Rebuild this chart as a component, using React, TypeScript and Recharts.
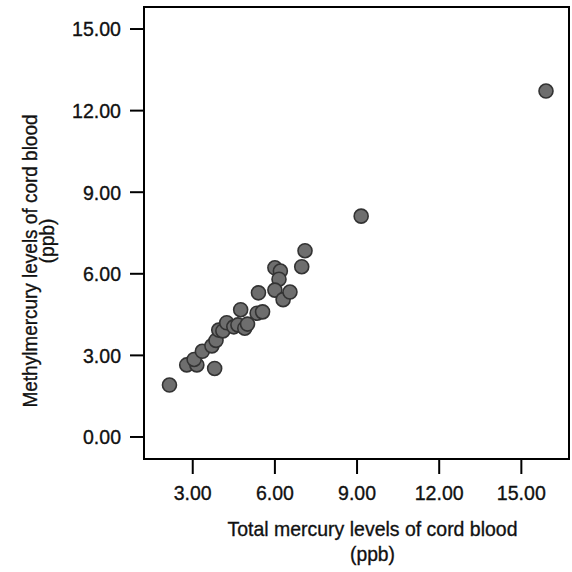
import React from "react"
import { ScatterChart, Scatter, XAxis, YAxis, ReferenceArea, Label } from "recharts"

// total mercury vs methylmercury in cord blood (ppb)
const totalHg = [
  2.15, 2.78, 3.15, 3.05, 3.80, 3.35, 3.70, 3.85, 3.95, 4.10,
  4.24, 4.50, 4.65, 4.90, 5.00, 4.75, 5.35, 5.55, 5.40, 6.00,
  6.20, 6.15, 6.00, 6.30, 6.55, 6.98, 7.10, 9.15, 15.90,
]
const methylHg = [
  1.91, 2.65, 2.65, 2.85, 2.52, 3.15, 3.35, 3.55, 3.93, 3.90,
  4.20, 4.05, 4.12, 4.00, 4.15, 4.68, 4.55, 4.60, 5.30, 6.22,
  6.10, 5.80, 5.40, 5.05, 5.33, 6.26, 6.85, 8.12, 12.72,
]
const xTicks = [3, 6, 9, 12, 15]
const yTicks = [0, 3, 6, 9, 12, 15]

const xDomain: [number, number] = [1.22, 16.74]
const yDomain: [number, number] = [-0.81, 15.81]

const data = totalHg.map((t, i) => ({ total: t, methyl: methylHg[i] }))

const FONT = "'Liberation Sans', Arial, Helvetica, sans-serif"
const INK = "#111"

const Dot = (props: any) => {
  const { cx, cy } = props
  if (cx == null || cy == null) return null
  return <circle cx={cx} cy={cy} r={7} fill="#6e6e6e" stroke="#333" strokeWidth={1.6} />
}

// slightly condensed, heavier tick text like the scanned figure
const Tick = (props: any) => {
  const { x, y, payload, textAnchor } = props
  const s = payload.value.toFixed(2)
  const w = s.length === 5 ? 49 : 38
  const onY = textAnchor === "end"
  return (
    <text
      x={x}
      y={y}
      dy={onY ? "0.36em" : "0.71em"}
      textAnchor={textAnchor}
      fontFamily={FONT}
      fontSize={20.5}
      fill={INK}
      stroke={INK}
      strokeWidth={0.35}
      textLength={w}
      lengthAdjust="spacingAndGlyphs"
    >
      {s}
    </text>
  )
}

const XTitle = (props: any) => {
  const vb = props.viewBox || { x: 144, y: 459, width: 425, height: 113 }
  const cx = vb.x + vb.width / 2 + 16
  return (
    <g fontFamily={FONT} fill={INK} stroke={INK} strokeWidth={0.35} fontSize={21}>
      <text x={cx} y={vb.y + 77} textAnchor="middle" textLength={290} lengthAdjust="spacingAndGlyphs">
        Total mercury levels of cord blood
      </text>
      <text x={cx} y={vb.y + 102} textAnchor="middle" textLength={45} lengthAdjust="spacingAndGlyphs">
        (ppb)
      </text>
    </g>
  )
}

const YTitle = (props: any) => {
  const vb = props.viewBox || { x: 0, y: 7, width: 144, height: 452 }
  const x1 = vb.x + 37
  const y1 = vb.y + 254
  const x2 = vb.x + 54
  const y2 = vb.y + 234
  return (
    <g fontFamily={FONT} fill={INK} stroke={INK} strokeWidth={0.35} fontSize={21}>
      <text x={x1} y={y1} transform={`rotate(-90 ${x1} ${y1})`} textAnchor="middle" textLength={293} lengthAdjust="spacingAndGlyphs">
        Methylmercury levels of cord blood
      </text>
      <text x={x2} y={y2} transform={`rotate(-90 ${x2} ${y2})`} textAnchor="middle" textLength={45} lengthAdjust="spacingAndGlyphs">
        (ppb)
      </text>
    </g>
  )
}

export default function App() {
  return (
    <div style={{ width: 572, height: 572 }}>
      <style>{"body{margin:0;background:#fff}"}</style>
      <ScatterChart width={572} height={572} margin={{ top: 7, right: 3, bottom: 0, left: 0 }}>
        <XAxis
          type="number"
          dataKey="total"
          domain={xDomain}
          ticks={xTicks}
          allowDataOverflow
          height={113}
          tickSize={15}
          tickMargin={11}
          axisLine={{ stroke: "#000", strokeWidth: 2 }}
          tickLine={{ stroke: "#000", strokeWidth: 2 }}
          tick={<Tick />}
        >
          <Label content={<XTitle />} />
        </XAxis>
        <YAxis
          type="number"
          dataKey="methyl"
          domain={yDomain}
          ticks={yTicks}
          allowDataOverflow
          width={144}
          tickSize={14}
          tickMargin={9}
          axisLine={{ stroke: "#000", strokeWidth: 2 }}
          tickLine={{ stroke: "#000", strokeWidth: 2 }}
          tick={<Tick />}
        >
          <Label content={<YTitle />} />
        </YAxis>
        <ReferenceArea
          x1={xDomain[0]}
          x2={xDomain[1]}
          y1={yDomain[0]}
          y2={yDomain[1]}
          fill="none"
          fillOpacity={0}
          stroke="#000"
          strokeWidth={2}
          ifOverflow="visible"
        />
        <Scatter data={data} shape={<Dot />} isAnimationActive={false} />
      </ScatterChart>
    </div>
  )
}
